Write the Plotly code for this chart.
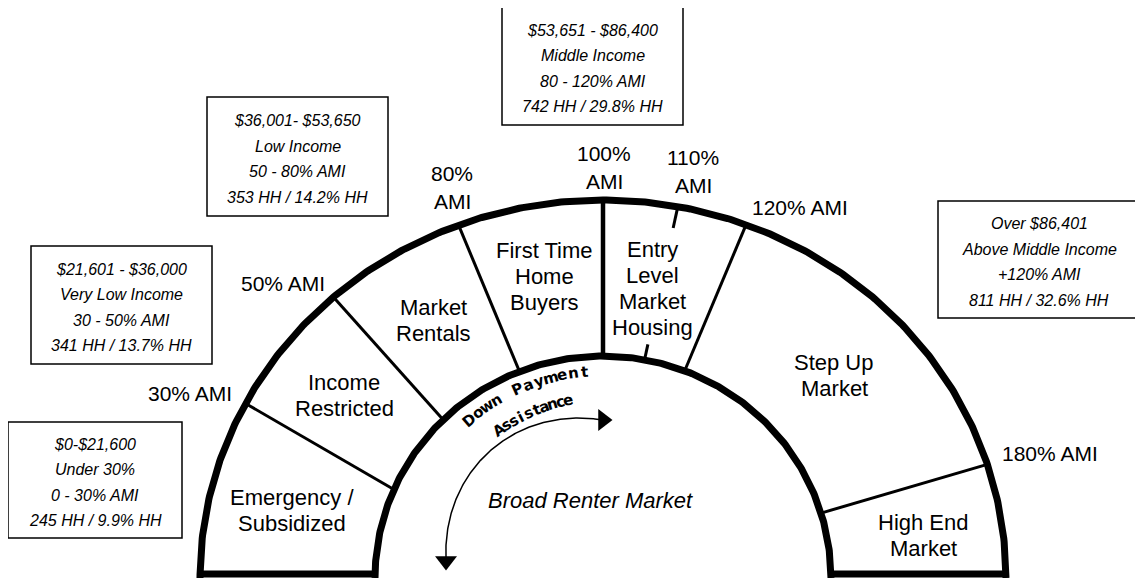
import numpy as np
import plotly.graph_objects as go

# data
ami_breaks = ["30% AMI", "50% AMI", "80%\nAMI", "100%\nAMI", "110%\nAMI", "120% AMI", "180% AMI"]
segments = ["Emergency /\nSubsidized", "Income\nRestricted", "Market\nRentals",
            "First Time\nHome\nBuyers", "Entry\nLevel\nMarket\nHousing",
            "Step Up\nMarket", "High End\nMarket"]
income_ranges = ["$0-$21,600", "$21,601 - $36,000", "$36,001- $53,650",
                 "$53,651 - $86,400", "Over $86,401"]
income_groups = ["Under 30%", "Very Low Income", "Low Income",
                 "Middle Income", "Above Middle Income"]
ami_ranges = ["0 - 30% AMI", "30 - 50% AMI", "50 - 80% AMI", "80 - 120% AMI", "+120% AMI"]
households = [245, 341, 353, 742, 811]
household_pct = [9.9, 13.7, 14.2, 29.8, 32.6]
center_label = "Broad Renter Market"
assist_label = ["Down Payment", "Assistance"]

# geometry, in page pixels (y grows downwards)
W, H = 1143, 578
PAD = 8  # default page margin of the html body
CX, CY = 603, 578
OUTER = (403, 378)
INNER = (228, 222)
break_outer = [152.5, 132, 111, 90, 79.3, 69.2, 17.5]
break_inner = [156.5, 134.5, 111.5, 90, 79.5, 69, 17]
break_pos = [(190, 393), (283, 283), (452, 187), (604, 167), (693, 171), (800, 207), (1050, 453)]
segment_pos = [(292, 510), (344, 395), (433, 320), (544, 276), (652, 288), (834, 375), (923, 535)]
boxes = [(8, 422, 182, 538), (31, 246, 212, 364), (207, 97, 388, 216),
         (502, 7, 683, 125), (938, 201, 1140, 318)]

FONT = "Liberation Sans, Arial, sans-serif"


def ell(rx, ry, deg):
    t = np.radians(deg)
    return CX + rx * np.cos(t), CY - ry * np.sin(t)


def add_lines(fig, x, y, text, size, spacing, italic=False):
    lines = text.split("\n")
    for i, ln in enumerate(lines):
        yy = y + (i - (len(lines) - 1) / 2) * spacing
        if italic:
            ln = "<i>" + ln + "</i>"
        fig.add_annotation(x=x, y=yy, text=ln, showarrow=False,
                           font=dict(family=FONT, size=size, color="black"),
                           xanchor="center", yanchor="middle")


fig = go.Figure()

# outer and inner arcs
ang = np.linspace(0, 180, 361)
for (rx, ry) in (OUTER, INNER):
    x, y = ell(rx, ry, ang)
    fig.add_trace(go.Scatter(x=x, y=y, mode="lines", line=dict(color="black", width=7),
                             hoverinfo="skip", showlegend=False))

# bottom closing lines
for x0, x1 in ((CX - OUTER[0] - 3, CX - INNER[0] + 3), (CX + INNER[0] - 3, CX + OUTER[0] + 3)):
    fig.add_trace(go.Scatter(x=[x0, x1], y=[CY - 4, CY - 4], mode="lines",
                             line=dict(color="black", width=7), hoverinfo="skip", showlegend=False))

# radial break lines
for i, lab in enumerate(ami_breaks):
    xo, yo = ell(*OUTER, break_outer[i])
    xi, yi = ell(*INNER, break_inner[i])
    if lab.startswith("110%"):
        # only short ticks on the arcs
        for (xa, ya, xb, yb, f) in ((xo, yo, xi, yi, 0.14), (xi, yi, xo, yo, 0.10)):
            fig.add_trace(go.Scatter(x=[xa, xa + (xb - xa) * f], y=[ya, ya + (yb - ya) * f],
                                     mode="lines", line=dict(color="black", width=3),
                                     hoverinfo="skip", showlegend=False))
        continue
    w = 4.5 if lab.startswith("100%") else 3
    fig.add_trace(go.Scatter(x=[xo, xi], y=[yo, yi], mode="lines", line=dict(color="black", width=w),
                             hoverinfo="skip", showlegend=False))

# AMI break labels
for lab, (x, y) in zip(ami_breaks, break_pos):
    add_lines(fig, x, y, lab, 21, 28)

# segment labels
for lab, (x, y) in zip(segments, segment_pos):
    add_lines(fig, x, y, lab, 22, 26)

# income boxes
for i, (x0, y0, x1, y1) in enumerate(boxes):
    fig.add_shape(type="rect", x0=x0, y0=y0, x1=x1, y1=y1,
                  line=dict(color="black", width=1.5), fillcolor="white", layer="below")
    txt = "\n".join([income_ranges[i], income_groups[i], ami_ranges[i],
                     f"{households[i]} HH / {household_pct[i]}% HH"])
    add_lines(fig, (x0 + x1) / 2, (y0 + y1) / 2 + 2.5, txt, 16, 25.5, italic=True)

# centre text
add_lines(fig, 590, 500, center_label, 22, 26, italic=True)

# curved "Down Payment / Assistance" text
for word, r, a0, a1 in ((assist_label[0], 207, 130.5, 95), (assist_label[1], 181, 125, 101)):
    angs = np.linspace(a0, a1, len(word))
    for ch, a in zip(word, angs):
        if ch == " ":
            continue
        t = np.radians(a)
        fig.add_annotation(x=CX + r * np.cos(t), y=CY - r * np.sin(t), text="<b>" + ch + "</b>",
                           showarrow=False, textangle=90 - a,
                           font=dict(family="DejaVu Sans, sans-serif", size=15, color="black"))

# curved double arrow
aa = np.linspace(173.5, 90, 200)
f = (173.5 - aa) / (173.5 - 90)
rr = 158 + 12 * np.sin(np.pi * f)
ax = CX + rr * np.cos(np.radians(aa))
ay = CY - rr * np.sin(np.radians(aa))
fig.add_trace(go.Scatter(x=ax, y=ay, mode="lines", line=dict(color="black", width=1.5),
                         hoverinfo="skip", showlegend=False))
fig.add_trace(go.Scatter(x=[ax[0], ax[-1]], y=[ay[0] + 1, ay[-1]], mode="markers",
                         marker=dict(symbol=["triangle-down", "triangle-right"], size=19, color="black"),
                         hoverinfo="skip", showlegend=False))

fig.update_layout(
    width=W - PAD, height=H - PAD,
    margin=dict(l=0, r=0, t=0, b=0),
    plot_bgcolor="white", paper_bgcolor="white",
    xaxis=dict(range=[PAD, W], visible=False, fixedrange=True),
    yaxis=dict(range=[H, PAD], visible=False, fixedrange=True),
    showlegend=False,
)

fig.write_html("out.html")
